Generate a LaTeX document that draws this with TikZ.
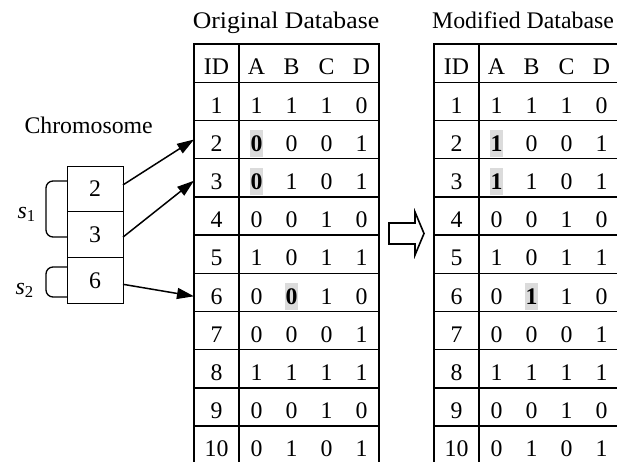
\documentclass[tikz,border=0pt]{standalone}
\usepackage{fontspec}
\setmainfont{Liberation Serif}
\usetikzlibrary{arrows.meta,positioning}

\begin{document}
\begin{tikzpicture}[x=1pt,y=-1pt,
every node/.style={font=\fontsize{23.8}{28}\selectfont},
idcell/.style={draw,line width=1.4pt,outer sep=0pt,inner sep=0pt,minimum width=45pt,minimum height=38.2pt,text height=23.5pt,text depth=0pt},
valrow/.style={draw,line width=1.4pt,outer sep=0pt,inner sep=0pt,minimum width=140pt,minimum height=38.2pt},
val/.style={inner sep=0pt,text height=15.5pt,text depth=0pt},
hit/.style={val,fill=black!14,inner xsep=0.6pt,inner ysep=6pt,font=\fontsize{23.8}{28}\selectfont\bfseries},
gene/.style={draw,line width=1pt,outer sep=0pt,inner sep=0pt,minimum width=56pt,minimum height=45.7pt,text height=15.5pt,text depth=0pt},
brace/.style={line width=1.3pt,rounded corners=7pt},
arr/.style={-{Triangle[length=17pt,width=11pt]},line width=1.5pt}
]
\useasboundingbox (0,0) rectangle (617,461);
\clip (0,0) rectangle (617,461);

% both tables share the same rows, the changed cells are added afterwards
\foreach \t/\dx in {o/0,m/240}{
  \node[idcell] (\t-0) at (216.5+\dx,63.1) {ID};
  \node[valrow,right=0pt of \t-0] (\t-row0) {};
  \foreach \v [count=\j] in {A,B,C,D}
    \node[val] (\t-0-\j) at (221.5+35*\j+\dx,67.1) {\v};
  \foreach \r/\vals in {1/{1,1,1,0},2/{,0,0,1},3/{,1,0,1},4/{0,0,1,0},5/{1,0,1,1},
                        6/{0,,1,0},7/{0,0,0,1},8/{1,1,1,1},9/{0,0,1,0},10/{0,1,0,1}}{
    \node[idcell] (\t-\r) at (216.5+\dx,63.1+38.2*\r) {\r};
    \node[valrow,right=0pt of \t-\r] (\t-row\r) {};
    \foreach \v [count=\j] in \vals
      \node[val] (\t-\r-\j) at (221.5+35*\j+\dx,67.1+38.2*\r) {\v};
  }
}
\node[hit] (o-hitA2) at (o-2-1) {0};
\node[hit] (o-hitA3) at (o-3-1) {0};
\node[hit] (o-hitB6) at (o-6-2) {0};
\node[hit] (m-hitA2) at (m-2-1) {1};
\node[hit] (m-hitA3) at (m-3-1) {1};
\node[hit] (m-hitB6) at (m-6-2) {1};

\node[anchor=base] (origtitle) at (286,28) {\scalebox{1.08}[1]{Original Database}};
\node[anchor=base] (modtitle) at (523,28) {Modified Database};

% chromosome and its two segments
\node[anchor=base west] (chromo) at (21,133) {Chromosome};
\node[gene] (g1) at (95,188.9) {2};
\node[gene,below=0pt of g1] (g2) {3};
\node[gene,below=0pt of g2] (g3) {6};
\draw[brace] (67,181) -- (46,181) -- (46,237) -- (67,237);
\draw[brace] (67,267) -- (46,267) -- (46,297) -- (67,297);
\node[anchor=base west] (s1) at (14,218) {\textit{s}\textsubscript{1}};
\node[anchor=base west] (s2) at (12,294) {\textit{s}\textsubscript{2}};

\draw[arr] ([yshift=4pt]g1.east) -- (o-2.west);
\draw[arr] ([yshift=-2.5pt]g2.east) -- ([yshift=-3pt]o-3.west);
\draw[arr] ([yshift=-4pt]g3.east) -- ([yshift=-4pt]o-6.west);

% hollow arrow between the tables
\draw[line width=1.6pt] (389,223) -- (415,223) -- (415,212) -- (424,233.5)
  -- (415,255) -- (415,244) -- (389,244) -- cycle;
\end{tikzpicture}
\end{document}
